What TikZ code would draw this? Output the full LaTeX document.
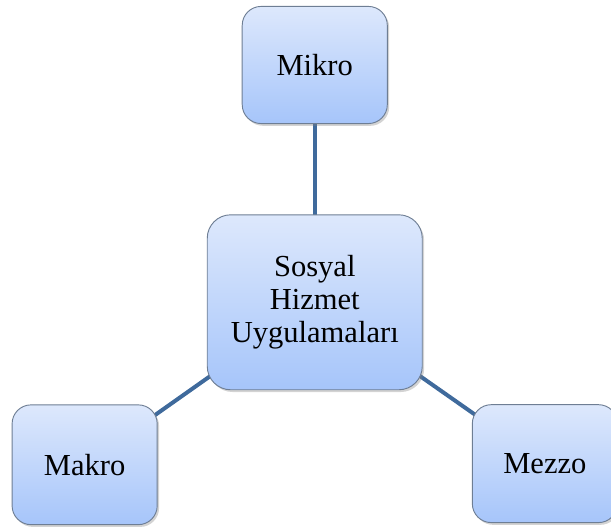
\documentclass[tikz,border=0pt]{standalone}
\usepackage{fontspec}
\setmainfont{Liberation Serif}
\usetikzlibrary{shadows, backgrounds}

\definecolor{boxtop}{HTML}{DDE8FC}
\definecolor{boxbottom}{HTML}{A6C5FA}
\definecolor{boxedge}{HTML}{6E7E94}
\definecolor{linkblue}{HTML}{3F6A9C}

\tikzset{
  box/.style={draw=boxedge, line width=0.7pt, top color=boxtop, bottom color=boxbottom,
    rounded corners=0.5cm, inner sep=0pt, align=center,
    font=\fontsize{23}{24.8}\selectfont,
    drop shadow={shadow xshift=0.05cm, shadow yshift=-0.06cm, opacity=0.35}},
  link/.style={linkblue, line width=3pt}
}

\begin{document}
\begin{tikzpicture}

\useasboundingbox ( 0, 0 ) rectangle ( 16.17, 13.94 );

% Center
\node (hub) at ( 8.33, 5.94 ) [box, minimum width=5.69cm, minimum height=4.63cm, rounded corners=0.62cm] {Sosyal\\Hizmet\\Uygulamaları};

% Levels
\node (mikro) at ( 8.33, 12.22 ) [box, minimum width=3.84cm, minimum height=3.10cm] {Mikro};
\node (makro) at ( 2.24, 1.64 ) [box, minimum width=3.84cm, minimum height=3.17cm] {Makro};
\node (mezzo) at ( 14.42, 1.67 ) [box, minimum width=3.84cm, minimum height=3.12cm] {Mezzo};

% Links
\begin{scope}[on background layer]
\draw [link] (mikro.center) -- (hub.center);
\draw [link] (makro.center) -- (hub.center);
\draw [link] (mezzo.center) -- (hub.center);
\end{scope}

\end{tikzpicture}
\end{document}
